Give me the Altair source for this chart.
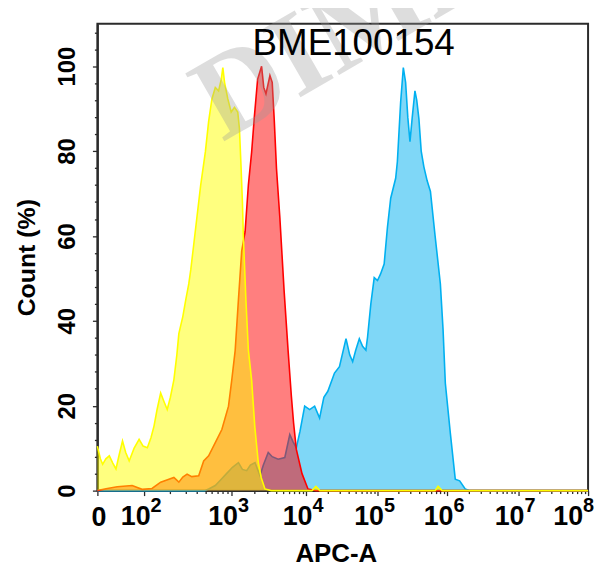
import math
import altair as alt
import pandas as pd

# ---- axis tick positions (display scale, biexponential-like) and labels ----
tick_pos = [0, 47, 135, 210, 282, 352, 423.5, 494]
zero_label = "0"
tick_base = "10"
tick_exp = ["2", "3", "4", "5", "6", "7", "8"]

# ---- histogram data (x on display scale, y = Count %) ----
yellow_x = [0, 3, 5.3, 8.5, 12, 15.5, 18.7, 22, 25.3, 28.5,
            32, 37, 42, 46, 50.3, 54, 57, 60, 63.7, 67,
            70.3, 73.5, 77, 80, 82, 86, 89, 92, 94, 97,
            100, 104, 108.7, 112, 115.3, 118.7, 122, 124.7, 126.3, 128,
            131.3, 134.7, 138, 141.3, 143, 144.7, 146, 147, 149.5, 152,
            155.3, 158.5, 162, 165, 168.7, 175, 216, 220, 224, 340,
            343, 347, 494]
yellow_y = [10.5, 7.5, 6.2, 7.5, 8.2, 6.5, 5.1, 8.5, 11.7, 9,
            7, 10, 12.1, 10.5, 10.1, 12.5, 15.2, 19, 23, 21,
            19.1, 22, 26.1, 32, 37, 41, 45, 48.7, 52, 58,
            64, 72, 79.8, 87, 92.3, 95, 94.2, 96.9, 99.7, 96.2,
            92.3, 89.2, 90.3, 89.2, 85.3, 75.9, 68, 59.6, 45, 33.1,
            26, 15, 6.6, 3, 0.4, 0, 0, 1.0, 0, 0,
            1.0, 0, 0]

red_x = [0, 10, 20, 35, 45, 55, 63.7, 72, 77, 82,
         86, 90.3, 95, 102, 107, 112, 118.7, 125.3, 132, 135.3,
         138.7, 142, 145.3, 148.7, 152, 155.3, 158, 161.3, 165.3, 167.5,
         169.7, 173.7, 176, 178, 180.3, 183.7, 188, 192, 195.3, 197.5,
         200.3, 206, 212, 220, 494]
red_y = [0, 0.5, 0.9, 1.2, 0.3, 0.5, 2, 2.7, 3.1, 2,
         3.2, 3.9, 3.3, 3.5, 7, 8.2, 11.3, 14.4, 19.9, 26.1,
         33, 45, 56.5, 61, 72, 79.8, 88, 96.9, 100, 95,
         93.5, 97.8, 96.2, 87.6, 75.9, 64.3, 47, 33, 22.2, 16,
         9.7, 4, 0.4, 0, 0]

blue_x = [0, 108, 112, 118.7, 124, 130, 136, 142, 146, 150.3,
          154, 158.7, 163.7, 167, 172, 176, 182, 188.7, 193.7, 197,
          200.3, 204, 208.7, 213.7, 218.7, 223.7, 228, 232, 238.7, 243.7,
          250.3, 254, 257, 260, 263.7, 267, 270.3, 272, 275.3, 278.7,
          282, 285, 288.7, 292, 295.3, 300.3, 302, 305.3, 308, 310.3,
          312.5, 314.7, 317, 319.7, 321.5, 323.7, 326, 328.7, 332, 335.3,
          340, 345.3, 348, 350.3, 355.3, 360.3, 364.7, 370.3, 375, 494]
blue_y = [0, 0, 0.4, 1.2, 2.5, 4, 5.5, 6.6, 5, 4.7,
          6, 6.6, 3.5, 6, 9, 8, 7.4, 7.8, 13.2, 11.5,
          10.1, 14, 19.9, 19.1, 19.9, 17.1, 22, 23.4, 27.7, 29.2,
          35.8, 32, 30.4, 33, 35.8, 34, 33.1, 36.2, 44, 50.2,
          49.5, 51, 53.4, 62, 68.9, 73.6, 77.5, 91.5, 99.7, 96.2,
          88, 82.2, 88, 94.2, 92, 87.6, 80, 76.3, 73, 70.5,
          60, 48.7, 38, 25.3, 13.6, 2.7, 2.3, 0.4, 0, 0]

assert len(yellow_x) == len(yellow_y)
assert len(red_x) == len(red_y)
assert len(blue_x) == len(blue_y)

title_text = "BME100154"
watermark_text = "DIMA"

# ---- axes ----
minor = []
for i in range(1, len(tick_pos) - 1):
    s, e = tick_pos[i], tick_pos[i + 1]
    for k in range(2, 10):
        minor.append(round(s + (e - s) * math.log10(k), 2))
x_values = tick_pos + minor

major_test = " || ".join(f"datum.value == {p}" for p in tick_pos)

FONT = "Liberation Sans"
AX = "#2b2b2b"
H = 470

x_axis = alt.Axis(
    values=x_values, labelExpr=f"datum.value == 0 ? '{zero_label}' : ''",
    labelFlush=False, labelOverlap=False,
    tickSize={"condition": {"test": major_test, "value": 5}, "value": 3},
    tickColor=AX, tickWidth=1.3, domainColor=AX, domainWidth=2, grid=False,
    labelFont=FONT, labelFontWeight="bold", labelFontSize=27, labelColor="black",
    labelBaseline="alphabetic", labelPadding=30, labelAngle=0, labelOffset=1,
    titleFont=FONT, titleFontWeight="bold", titleFontSize=26, titleColor="black",
    titleX=240, titleY=71, titleBaseline="alphabetic", titleAlign="center",
)
y_values = list(range(0, 109, 4))
y_axis = alt.Axis(
    values=y_values, labelExpr="datum.value % 20 == 0 ? datum.label : ''",
    labelOverlap=False, labelFlush=False,
    tickSize={"condition": {"test": "datum.value % 20 == 0", "value": 5}, "value": 3},
    tickColor=AX, tickWidth=1.3, domainColor=AX, domainWidth=2, grid=False,
    labelFont=FONT, labelFontWeight="bold", labelFontSize=24, labelColor="black",
    labelAngle=270, labelAlign="center", labelBaseline="middle", labelPadding=25,
    titleFont=FONT, titleFontWeight="bold", titleFontSize=25, titleColor="black",
    titleAngle=270, titleX=-71, titleY=235, titleAlign="center", titleBaseline="middle",
)

x_scale = alt.Scale(domain=[0, 494], nice=False, zero=False)
x_enc = alt.X("x:Q", scale=x_scale, axis=x_axis, title="APC-A")
y_enc = alt.Y("y:Q", scale=alt.Scale(domain=[0, 110], nice=False), axis=y_axis, title="Count (%)")


def series(xs, ys, color):
    df = pd.DataFrame({"x": xs, "y": ys})
    base = alt.Chart(df)
    area = base.mark_area(color=color, opacity=0.5).encode(x=x_enc, y=y_enc)
    line = base.mark_line(color=color, strokeWidth=1.6).encode(x=x_enc, y=y_enc)
    return [area, line]


layers = []
layers += series(blue_x, blue_y, "#00B0F0")
layers += series(red_x, red_y, "#FF0000")
layers += series(yellow_x, yellow_y, "#FFFF00")

# decade labels "10" + superscript exponent, placed through the x scale
shift = [-8.5 if p < tick_pos[-1] else -20 for p in tick_pos[1:]]
lab_df = pd.DataFrame({
    "x": [p + s for p, s in zip(tick_pos[1:], shift)],
    "base": [tick_base] * len(tick_exp),
    "exp": tick_exp,
})
lab_base = alt.Chart(lab_df).mark_text(
    font=FONT, fontWeight="bold", fontSize=27, align="center", baseline="alphabetic", color="black",
).encode(x=x_enc, y=alt.value(H + 35), text="base:N")
lab_exp = alt.Chart(lab_df).mark_text(
    font=FONT, fontWeight="bold", fontSize=20, align="left", baseline="alphabetic", color="black", dx=15,
).encode(x=x_enc, y=alt.value(H + 22), text="exp:N")

wm = alt.Chart(pd.DataFrame({"t": [watermark_text]})).mark_text(
    font="Liberation Serif", fontWeight="bold", fontSize=120, angle=330,
    align="left", baseline="middle", color="#9a9a9a", opacity=0.33,
).encode(text="t:N", x=alt.value(108), y=alt.value(88))

ttl = alt.Chart(pd.DataFrame({"t": [title_text]})).mark_text(
    font=FONT, fontSize=37, align="center", baseline="alphabetic", color="black",
).encode(text="t:N", x=alt.value(258), y=alt.value(31))

chart = alt.layer(*layers, lab_base, lab_exp, wm, ttl).properties(
    width=494, height=H,
    autosize=alt.AutoSizeParams(type="none"),
    padding={"left": 90, "top": 14, "right": 10, "bottom": 75},
).configure_view(stroke=AX, strokeWidth=2)

chart.save("out.html", embed_options={"renderer": "svg", "actions": False})
